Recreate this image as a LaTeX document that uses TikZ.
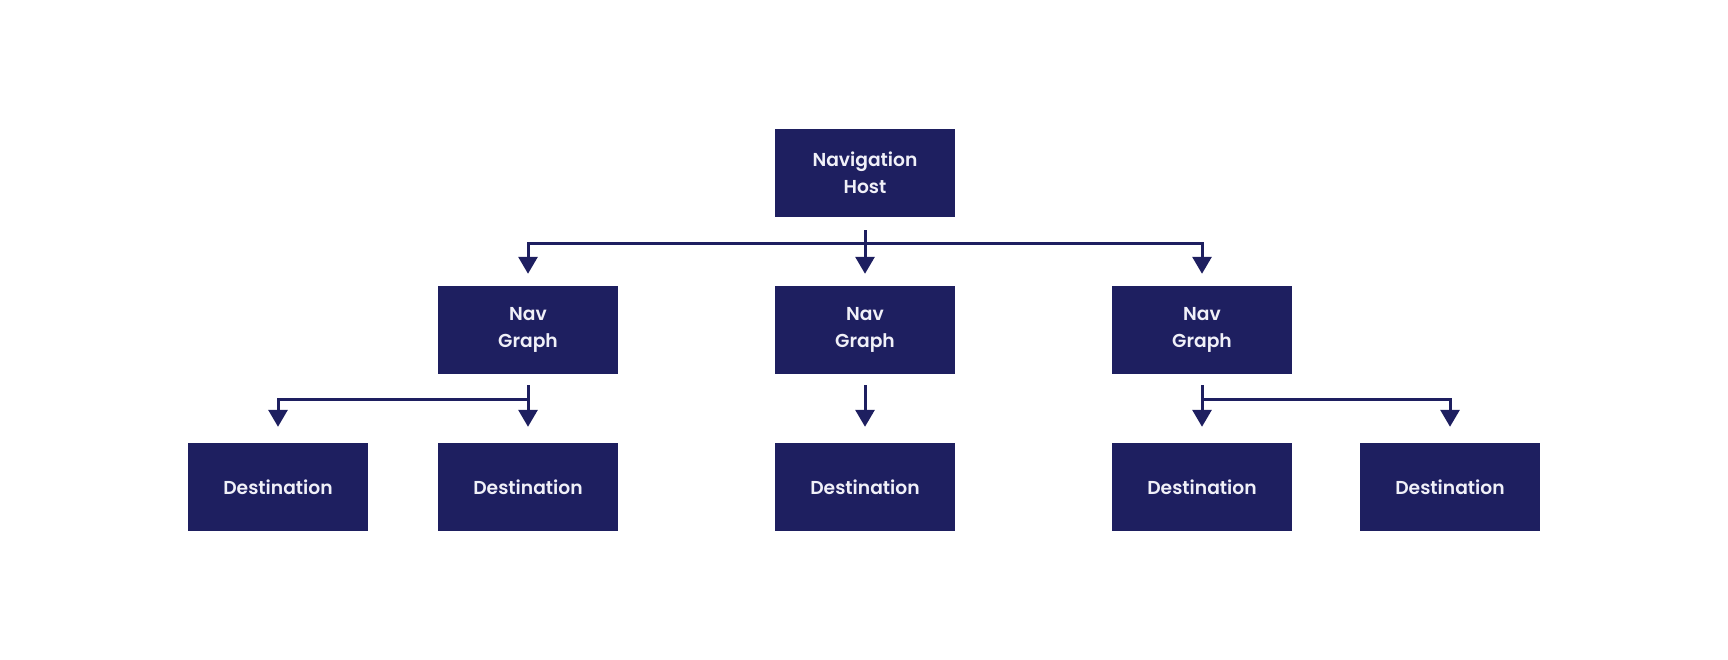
\documentclass[tikz,border=0pt]{standalone}
\usepackage{fontspec}
\IfFontExistsTF{Poppins SemiBold}{\setmainfont{Poppins}[BoldFont={Poppins SemiBold}]}{\setmainfont{Poppins}}
\usetikzlibrary{arrows.meta}
\definecolor{navy}{RGB}{30,31,96}
\definecolor{boxtext}{RGB}{240,240,248}
\tikzset{
  box/.style={fill=navy, minimum width=180pt, minimum height=88pt, inner sep=0pt,
    text=boxtext, font=\fontsize{18.7}{26.5}\selectfont\bfseries, align=center},
  link/.style={draw=navy, line width=3pt},
  arr/.style={link, -{Triangle[width=19pt,length=17pt]}}
}
\begin{document}
\begin{tikzpicture}[x=1pt,y=-1pt]
\useasboundingbox (0,0) rectangle (1728,660);
\node[box] (host) at (865,173) {Navigation\\Host};
\node[box] (g1) at (528,330) {Nav\\Graph};
\node[box] (g2) at (865,330) {Nav\\Graph};
\node[box] (g3) at (1202,330) {Nav\\Graph};
\node[box] (d1) at (278,487) {Destination};
\node[box] (d2) at (528,487) {Destination};
\node[box] (d3) at (865,487) {Destination};
\node[box] (d4) at (1202,487) {Destination};
\node[box] (d5) at (1450,487) {Destination};
% level 1
\coordinate (hs) at ([yshift=-13pt]host.south);
\coordinate (hb) at (865,244);
\draw[link] (hs) -- (hb);
\draw[arr] (hb) -| ([yshift=12pt]g1.north);
\draw[arr] (hb) -| ([yshift=12pt]g3.north);
\draw[arr] (hb) -- ([yshift=12pt]g2.north);
% level 2
\coordinate (b1) at (528,399);
\draw[link] ([yshift=-11pt]g1.south) -- (b1);
\draw[arr] (b1) -- ([yshift=16pt]d2.north);
\draw[arr] (b1) -| ([yshift=16pt]d1.north);
\draw[arr] ([yshift=-11pt]g2.south) -- ([yshift=16pt]d3.north);
\coordinate (b3) at (1202,399);
\draw[link] ([yshift=-11pt]g3.south) -- (b3);
\draw[arr] (b3) -- ([yshift=16pt]d4.north);
\draw[arr] (b3) -| ([yshift=16pt]d5.north);
\end{tikzpicture}
\end{document}
